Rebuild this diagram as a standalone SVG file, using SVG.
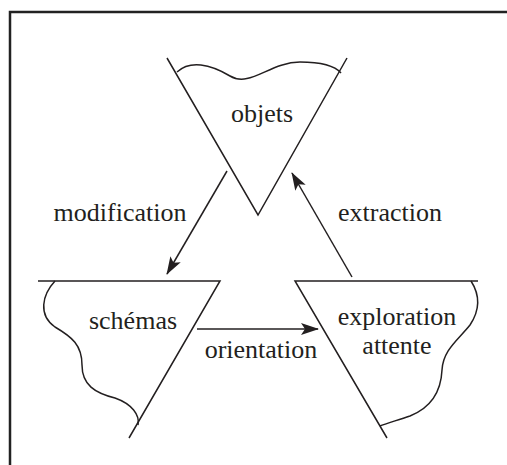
<svg xmlns="http://www.w3.org/2000/svg" width="507" height="465" viewBox="0 0 507 465">
<defs>
<style>
.ln{fill:none;stroke:#231f20;stroke-width:1.5;stroke-linecap:butt}
.ar{fill:none;stroke:#231f20;stroke-width:1.5;marker-end:url(#ah)}
</style>
<marker id="ah" viewBox="0 0 18 12" refX="17" refY="6" markerWidth="18" markerHeight="12" markerUnits="userSpaceOnUse" orient="auto">
<path d="M0,0 L18,6 L0,12 L4,6 Z" fill="#231f20"/>
</marker>
</defs>
<rect x="0" y="0" width="507" height="465" fill="#fff"/>
<path d="M10,465 L10,12 L507,12" fill="none" stroke="#222" stroke-width="2.5"/>
<g font-family="Liberation Serif" font-size="26" fill="#231f20" text-anchor="middle">
<g id="objets">
<path class="ln" d="M167,58 L258,215 L347,58"/>
<path class="ln" d="M177,72 C190,60 210,64 230,76 C250,88 270,62 300,62 C320,62 335,66 341,73"/>
<text x="262" y="122">objets</text>
</g>
<g id="schemas">
<path class="ln" d="M38,281 L220,281 L129,438"/>
<path class="ln" d="M55,281 C42,295 38,315 55,327 C72,337 82,345 82,365 C82,385 95,393 115,398 C132,404 140,415 138,425"/>
<text x="133" y="329">schémas</text>
</g>
<g id="exploration">
<path class="ln" d="M478,281 L295,281 L387,438"/>
<path class="ln" d="M471,281 C480,295 480,310 470,325 C458,340 443,350 442,370 C441,392 430,408 410,416 C395,421 385,424 380,426"/>
<text x="397" y="325">exploration</text>
<text x="397" y="354">attente</text>
</g>
<g id="connectors">
<line class="ar" x1="227" y1="171" x2="167" y2="274"/>
<line class="ar" x1="352" y1="277" x2="292" y2="173"/>
<line class="ar" x1="197" y1="329" x2="318" y2="329"/>
<text x="120" y="221">modification</text>
<text x="390" y="221">extraction</text>
<text x="261" y="358">orientation</text>
</g>
</g>
</svg>
